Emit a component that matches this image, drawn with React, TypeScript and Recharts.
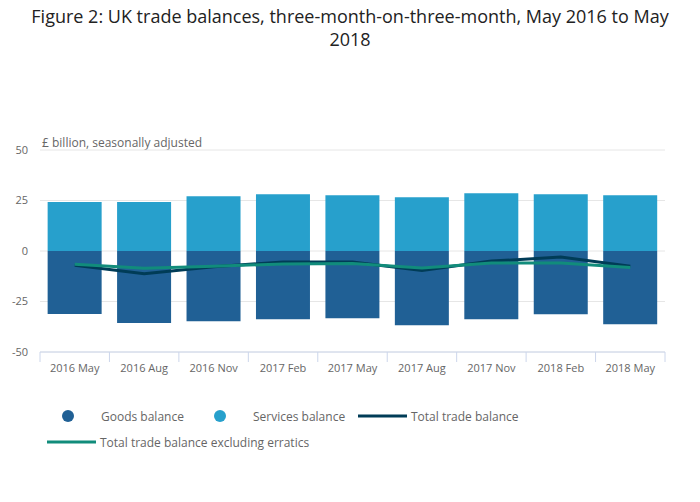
import { ComposedChart, Bar, Line, XAxis, YAxis, CartesianGrid } from "recharts";

const periods = ["2016 May", "2016 Aug", "2016 Nov", "2017 Feb", "2017 May", "2017 Aug", "2017 Nov", "2018 Feb", "2018 May"];
const goods = [-31.2, -35.6, -34.8, -33.8, -33.3, -36.8, -33.8, -31.3, -36.3];
const services = [24.2, 24.2, 27.1, 28.1, 27.6, 26.6, 28.6, 28.1, 27.6];
const total = [-7.0, -11.2, -7.8, -5.4, -5.5, -9.6, -5.0, -3.0, -7.6];
const totalExErratics = [-6.6, -8.6, -7.6, -6.4, -6.2, -8.4, -6.0, -6.0, -8.2];
const yTicks = [-50, -25, 0, 25, 50];

const data = periods.map((p, i) => ({
  period: p,
  goods: goods[i],
  services: services[i],
  total: total[i],
  totalEx: totalExErratics[i],
}));

const COLORS = {
  goods: "#206095",
  services: "#27a0cc",
  total: "#003c57",
  totalEx: "#118c7b",
};

const FONT = "'Open Sans', sans-serif";
const W = 700;
const H = 502;
const LEFT = 40;
const RIGHT = 35;
const STEP = (W - LEFT - RIGHT) / periods.length;

const legendItems = [
  { label: "Goods balance", color: COLORS.goods, kind: "dot", width: 152 },
  { label: "Services balance", color: COLORS.services, kind: "dot", width: 159 },
  { label: "Total trade balance", color: COLORS.total, kind: "line", width: 250 },
  { label: "Total trade balance excluding erratics", color: COLORS.totalEx, kind: "line", width: 400 },
];

function XTick(props: any) {
  const { x, y, payload, index } = props;
  const last = index === periods.length - 1;
  return (
    <g>
      <line x1={x - STEP / 2} x2={x - STEP / 2} y1={y - 8} y2={y + 2} stroke="#ccd6eb" />
      {last && <line x1={x + STEP / 2} x2={x + STEP / 2} y1={y - 8} y2={y + 2} stroke="#ccd6eb" />}
      <text x={x} y={y + 12} textAnchor="middle" fill="#666" fontSize={11} fontFamily={FONT}>
        {payload.value}
      </text>
    </g>
  );
}

function ChartLegend() {
  return (
    <div style={{ position: "absolute", left: 47, top: 407, width: 600, display: "flex", flexWrap: "wrap", fontFamily: FONT, fontSize: 12, color: "#666", rowGap: 8 }}>
      {legendItems.map((it) => (
        <div key={it.label} style={{ display: "flex", alignItems: "center", width: it.width, height: 18 }}>
          <svg width={54} height={14} style={{ flex: "none" }}>
            {it.kind === "dot" ? (
              <circle cx={21} cy={7} r={6} fill={it.color} />
            ) : (
              <line x1={0} x2={49} y1={7} y2={7} stroke={it.color} strokeWidth={3} />
            )}
          </svg>
          <span style={{ marginLeft: it.kind === "dot" ? 0 : -1 }}>{it.label}</span>
        </div>
      ))}
    </div>
  );
}

export default function App() {
  return (
    <div style={{ position: "absolute", left: 0, top: 0, width: W, height: H, background: "#fff" }}>
      <div style={{ position: "absolute", left: 20, right: 20, top: 5, textAlign: "center", fontFamily: FONT, fontSize: 18, lineHeight: "23px", color: "#222" }}>
        Figure 2: UK trade balances, three-month-on-three-month, May 2016 to May 2018
      </div>
      <div style={{ position: "absolute", left: 42, top: 134, fontFamily: FONT, fontSize: 12, color: "#666" }}>
        £ billion, seasonally adjusted
      </div>
      <ComposedChart
        width={W}
        height={H}
        data={data}
        stackOffset="sign"
        barCategoryGap="11%"
        margin={{ top: 150, right: RIGHT, bottom: 120, left: 0 }}
        style={{ fontFamily: FONT }}
      >
        <CartesianGrid vertical={false} stroke="#e6e6e6" />
        <XAxis
          dataKey="period"
          stroke="#ccd6eb"
          tickLine={false}
          tick={<XTick />}
          height={30}
          interval={0}
        />
        <YAxis
          domain={[-50, 50]}
          ticks={yTicks}
          width={LEFT}
          axisLine={false}
          tickLine={false}
          tickSize={0}
          tickMargin={12}
          tick={{ fill: "#666", fontSize: 11, fontFamily: FONT }}
        />
        <Bar dataKey="goods" stackId="a" fill={COLORS.goods} isAnimationActive={false} />
        <Bar dataKey="services" stackId="a" fill={COLORS.services} isAnimationActive={false} />
        <Line dataKey="total" stroke={COLORS.total} strokeWidth={3} dot={false} type="linear" isAnimationActive={false} />
        <Line dataKey="totalEx" stroke={COLORS.totalEx} strokeWidth={3} dot={false} type="linear" isAnimationActive={false} />
      </ComposedChart>
      <ChartLegend />
    </div>
  );
}
